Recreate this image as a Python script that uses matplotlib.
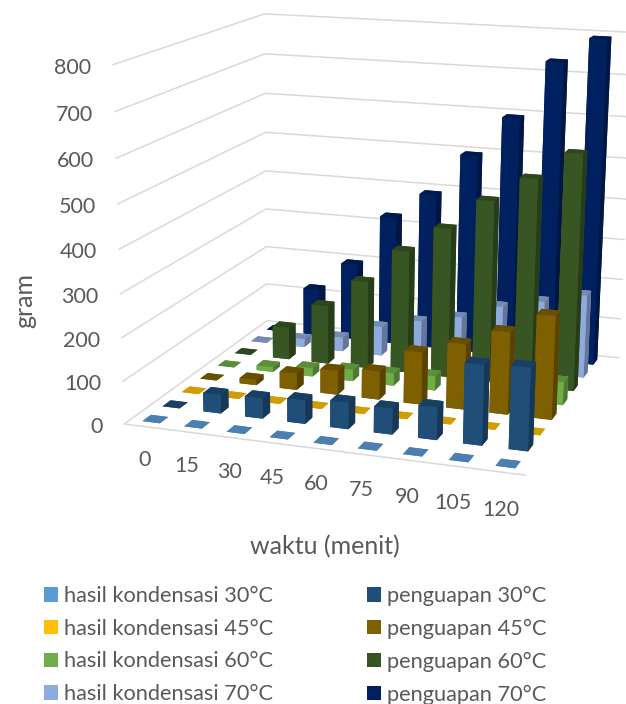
import numpy as np
import matplotlib
matplotlib.use("Agg")
import matplotlib.pyplot as plt
from matplotlib.patches import Patch
from matplotlib.colors import to_rgb
from mpl_toolkits.mplot3d import proj3d

W, H = 626, 704
waktu = ["0", "15", "30", "45", "60", "75", "90", "105", "120"]
z_ticks = [0, 100, 200, 300, 400, 500, 600, 700, 800]

hasil_30 = [0, 0, 0, 0, 0, 0, 0, 0, 0]
penguapan_30 = [0, 44, 48, 55, 62, 60, 75, 183, 188]
hasil_45 = [0, 0, 0, 0, 0, 0, 0, 0, 0]
penguapan_45 = [0, 13, 40, 58, 68, 125, 155, 194, 242]
hasil_60 = [0, 12, 20, 28, 30, 35, 40, 50, 55]
penguapan_60 = [0, 80, 145, 215, 300, 363, 438, 498, 563]
hasil_70 = [0, 20, 35, 73, 98, 118, 155, 178, 203]
penguapan_70 = [0, 120, 195, 325, 390, 495, 593, 733, 792]

series = [
    ("hasil kondensasi 30°C", hasil_30, "#5B9BD5"),
    ("penguapan 30°C", penguapan_30, "#1F4E79"),
    ("hasil kondensasi 45°C", hasil_45, "#FFC000"),
    ("penguapan 45°C", penguapan_45, "#7F6000"),
    ("hasil kondensasi 60°C", hasil_60, "#70AD47"),
    ("penguapan 60°C", penguapan_60, "#375623"),
    ("hasil kondensasi 70°C", hasil_70, "#8FAADC"),
    ("penguapan 70°C", penguapan_70, "#002060"),
]

NX, NY, ZMAX = len(waktu), len(series), z_ticks[-1]
BAR = 0.42
TXT = "#595959"
GRID = "#D9D9D9"
plt.rcParams["font.family"] = ["Lato", "DejaVu Sans"]
FS = 15.5
FS_LEG = 15.7
FS_TITLE = 18

# camera: fitted from where the box corners sit on the canvas
view_refs = [
    ((0, 0, 0), (125, 423)), ((NX, 0, 0), (526, 476)), ((0, NY, 0), (267, 322)),
    ((NX, NY, 0), (611, 357)), ((0, 0, 800), (113, 66)), ((0, NY, 800), (265, 13)),
    ((NX, NY, 800), (627, 33)), ((0, 0, 400), (118, 248)), ((0, NY, 400), (266, 171)),
    ((NX, NY, 400), (619, 197)),
]
A, b = [], []
for (x, y, z), (u, v) in view_refs:
    x, y, z = x / NX, y / NY, z / ZMAX
    A.append([x, y, z, 1, 0, 0, 0, 0, -u * x, -u * y, -u * z]); b.append(u)
    A.append([0, 0, 0, 0, x, y, z, 1, -v * x, -v * y, -v * z]); b.append(v)
p = np.linalg.lstsq(np.array(A, float), np.array(b, float), rcond=None)[0]
S = np.diag([1 / NX, 1 / NY, 1 / ZMAX, 1])
M = np.array([list(p[:4]), list(p[4:8]), [0, 0, 0, -1], list(p[8:11]) + [1]]) @ S

fig = plt.figure(figsize=(W / 100, H / 100), dpi=100, facecolor="white")
ax = fig.add_axes([0, 0, 1, 1], projection="3d")
ax.computed_zorder = False
ax.set_axis_off()
ax.apply_aspect = lambda position=None: None
ax.get_proj = lambda: M
ax._focal_length = np.inf
ax.set_xlim3d(0, NX); ax.set_ylim3d(0, NY); ax.set_zlim3d(0, ZMAX)

X_END = NX + 0.17
for z in z_ticks:
    ax.plot([0, 0, X_END], [0, NY, NY], [z, z, z], color=GRID, lw=1.1, zorder=1)
ax.plot([0, NX], [0, 0], [0, 0], color=GRID, lw=1.1, zorder=1)


def shade(c, k):
    return tuple(k * v for v in to_rgb(c))


order = 10
for row in range(NY - 1, -1, -1):
    name, vals, col = series[row]
    top, side = shade(col, 0.82), shade(col, 0.7)
    faces = [top, top, col, col, side, side]
    for i, v in enumerate(vals):
        bar = ax.bar3d(i + 0.5 - BAR / 2, row + 0.5 - BAR / 2, 0, BAR, BAR, v,
                       color=faces, shade=False, linewidth=0)
        bar.set_zorder(order)
        order += 1

ax.viewLim.intervalx = (0, W)
ax.viewLim.intervaly = (H, 0)


def project(x, y, z):
    u, v, _ = proj3d.proj_transform(x, y, z, M)
    return u, v


def put(u, v, s, fs=FS, **kw):
    fig.text(u / W, 1 - v / H, s, color=TXT, fontsize=fs, **kw)


for z in z_ticks:
    u, v = project(0, 0, z)
    put(u - 22, v + 3, str(z), ha="right", va="center")
for i, s in enumerate(waktu):
    u, v = project(i + 0.5, 0, 0)
    put(u - 1, v + 33 + 0.6 * i, s, ha="center", va="center")
put(25, 300, "gram", fs=FS_TITLE, rotation=90, ha="center", va="center")
put(325, 547, "waktu (menit)", fs=FS_TITLE, ha="center", va="center")

handles = [Patch(facecolor=c, edgecolor="none", label=n) for n, _, c in series[0::2]] + \
          [Patch(facecolor=c, edgecolor="none", label=n) for n, _, c in series[1::2]]
leg = fig.legend(handles=handles, ncol=2, loc="lower left", bbox_to_anchor=(39.6 / W, 1 - 709 / H),
                 frameon=False, fontsize=FS_LEG, labelcolor=TXT, handlelength=0.65, handleheight=0.65,
                 handletextpad=0.25, columnspacing=4.33, labelspacing=0.585, borderpad=0.2, borderaxespad=0)

fig.savefig("out.png", dpi=100)
